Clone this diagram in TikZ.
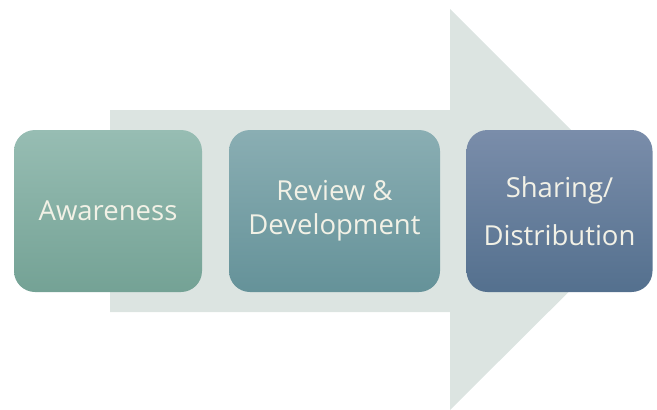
\documentclass[tikz,border=0pt]{standalone}
\usepackage{fontspec}
\setmainfont{Open Sans}
\usetikzlibrary{positioning}
\definecolor{arrowbg}{HTML}{DCE4E1}
\definecolor{awaretop}{HTML}{97BDB3}
\definecolor{awarebot}{HTML}{74A295}
\definecolor{reviewtop}{HTML}{8AAEB3}
\definecolor{reviewbot}{HTML}{659299}
\definecolor{sharetop}{HTML}{7A8DAA}
\definecolor{sharebot}{HTML}{54708E}
\definecolor{labeltext}{HTML}{F2F1E6}
\tikzset{
  stagebox/.style={rounded corners=21pt, inner sep=0pt, outer sep=0pt,
    minimum height=162pt, align=center, text=labeltext,
    font=\fontsize{27.5}{34}\selectfont}
}

\begin{document}
\begin{tikzpicture}[x=1pt, y=-1pt]
  \useasboundingbox (0,0) rectangle (657,410);
  % big background arrow
  \fill [arrowbg] (110,110) -- (450,110) -- (450,9) -- (651,210)
        -- (450,410) -- (450,312) -- (110,312) -- cycle;
  % stages
  \node [stagebox, minimum width=188pt, top color=awaretop, bottom color=awarebot]
        (aware) at (108,211) {Awareness};
  \node [stagebox, minimum width=211pt, top color=reviewtop, bottom color=reviewbot]
        (review) at (334.5,211) {Review \&\\Development};
  \node [stagebox, minimum width=186pt, top color=sharetop, bottom color=sharebot]
        (share) at (559.5,211) {Sharing/\\[14pt]Distribution};
\end{tikzpicture}
\end{document}
